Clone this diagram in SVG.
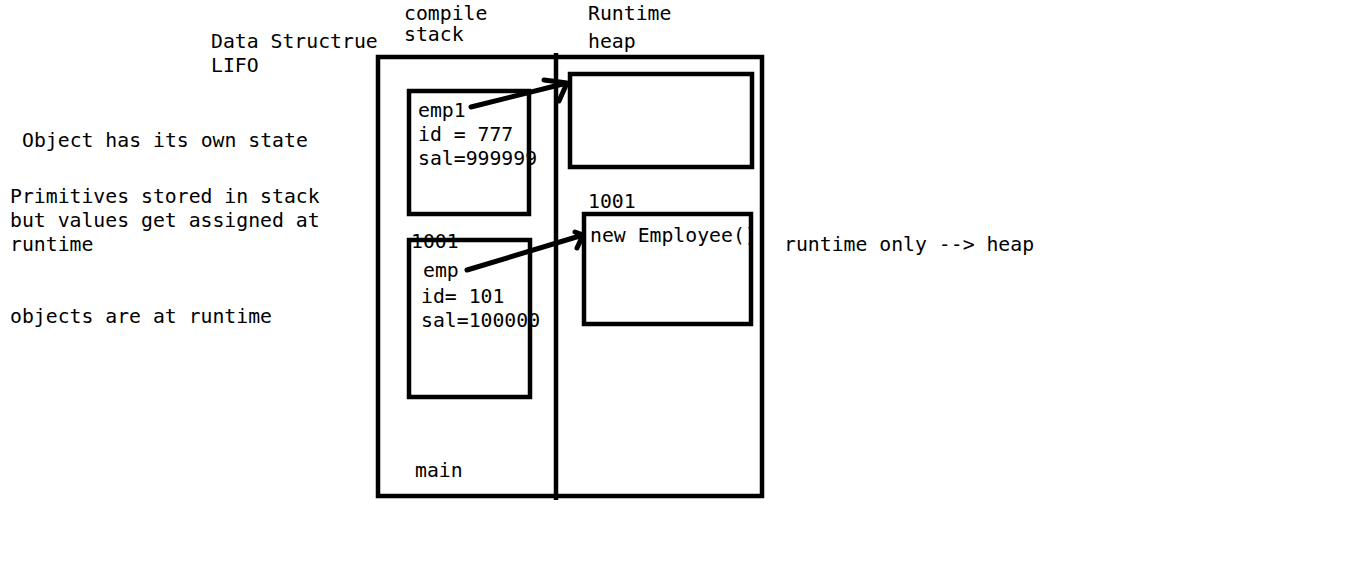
<svg xmlns="http://www.w3.org/2000/svg" width="1360" height="568" viewBox="0 0 1360 568">
<style>
.t{font-family:"DejaVu Sans Mono","Liberation Mono",monospace;font-size:19.8px;fill:#000}
.b{fill:none;stroke:#000;stroke-width:4.5}
.a{fill:none;stroke:#000;stroke-width:5;stroke-linecap:round;stroke-linejoin:round}
</style>
<rect width="1360" height="568" fill="#fff"/>
<g id="labels">
<text class="t" x="404" y="20">compile</text>
<text class="t" x="404" y="41">stack</text>
<text class="t" x="588" y="20">Runtime</text>
<text class="t" x="588" y="48">heap</text>
<text class="t" x="211" y="48">Data Structrue</text>
<text class="t" x="211" y="72">LIFO</text>
<text class="t" x="22" y="147">Object has its own state</text>
<text class="t" x="10" y="203">Primitives stored in stack</text>
<text class="t" x="10" y="227">but values get assigned at</text>
<text class="t" x="10" y="251">runtime</text>
<text class="t" x="10" y="323">objects are at runtime</text>
<text class="t" x="784" y="251">runtime only --&gt; heap</text>
</g>
<g id="memory">
<rect class="b" x="378" y="57" width="384" height="439"/>
<line class="b" x1="556" y1="53" x2="556" y2="500"/>
<text class="t" x="415" y="477">main</text>
</g>
<g id="stack-emp1">
<rect class="b" x="409" y="91" width="120" height="123"/>
<text class="t" x="418" y="117">emp1</text>
<text class="t" x="418" y="141">id = 777</text>
<text class="t" x="418" y="165">sal=999999</text>
</g>
<g id="stack-emp">
<rect class="b" x="409" y="240" width="121" height="157"/>
<text class="t" x="411" y="248">1001</text>
<text class="t" x="423" y="277">emp</text>
<text class="t" x="421" y="303">id= 101</text>
<text class="t" x="421" y="327">sal=100000</text>
</g>
<g id="heap-obj1">
<rect class="b" x="570" y="74" width="182" height="93"/>
</g>
<g id="heap-obj2">
<text class="t" x="588" y="208">1001</text>
<rect class="b" x="584" y="214" width="167" height="110"/>
<text class="t" x="590" y="242">new Employee()</text>
</g>
<g id="connectors">
<path class="a" d="M471 107 L567 83 M544 80 L567 83 L559 101"/>
<path class="a" d="M467 270 L583 235 M575 232 L583 235 L577 248"/>
</g>
</svg>
